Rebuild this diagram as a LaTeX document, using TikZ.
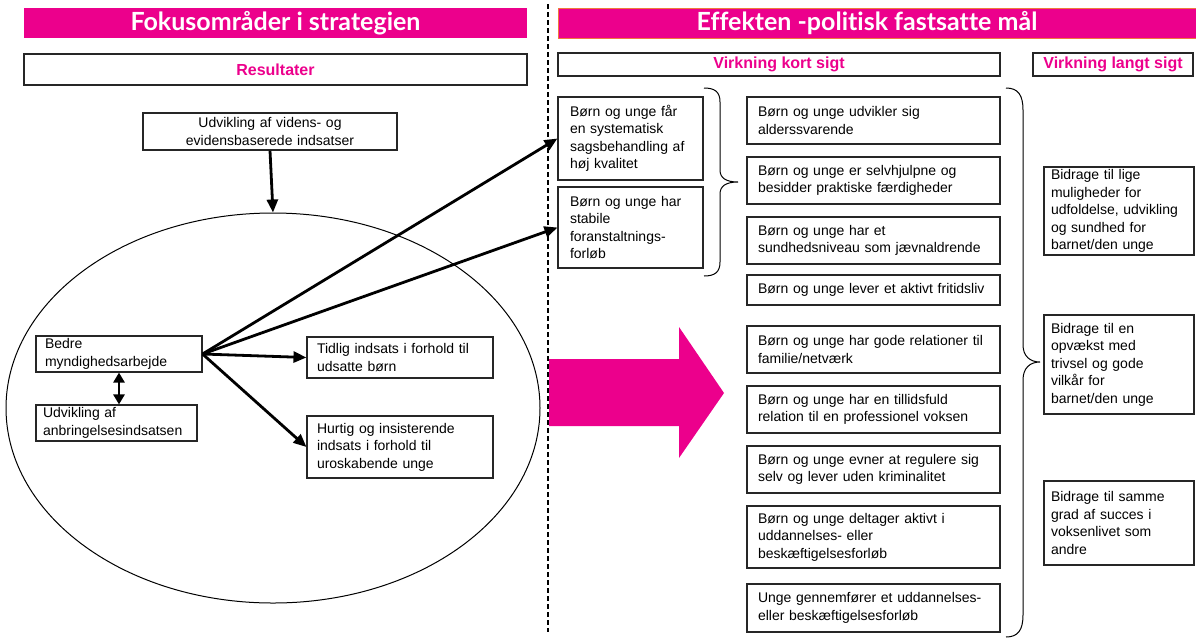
\documentclass[tikz,border=0pt]{standalone}
\usepackage{fontspec}
\setmainfont{Liberation Sans}
\newfontfamily\hdfont[Ligatures=NoCommon]{Lato}
\usetikzlibrary{arrows.meta,shapes.geometric}
\definecolor{pnk}{RGB}{236,0,140}
\definecolor{hdedge}{RGB}{240,120,60}
\begin{document}
\begin{tikzpicture}[x=1pt,y=-1pt,
  bx/.style={draw=black!85, line width=1.1pt, fill=white, align=left,
    font=\fontsize{14}{17.5}\selectfont, inner ysep=0pt},
  hd/.style={fill=pnk, text=white, inner sep=0pt,
    font=\hdfont\bfseries\fontsize{25}{28}\selectfont},
  sub/.style={draw=black!85, line width=1.1pt, text=pnk, inner sep=0pt,
    font=\bfseries\fontsize{16}{18}\selectfont},
  arr/.style={line width=2.8pt, -{Triangle[length=13pt,width=11pt]}},
  dbl/.style={line width=2.8pt, {Triangle[length=10pt,width=11pt]}-{Triangle[length=10pt,width=11pt]}},
  brc/.style={line width=1pt}]
\useasboundingbox (0,0) rectangle (1196,638);

% headers
\node[hd, minimum width=503, minimum height=30] (hdL) at (275.5,23) {Fokusområder i strategien};
\node[hd, draw=hdedge, line width=0.6pt, minimum width=638, minimum height=30] (hdR) at (877,23) {\hspace*{-20pt}Effekten -politisk fastsatte mål};
\node[sub, minimum width=503, minimum height=31] (res) at (275.5,69.5) {Resultater};
\node[sub, minimum width=442, minimum height=23] (kort) at (779,64.5) {Virkning kort sigt};
\node[sub, minimum width=160, minimum height=23] (lang) at (1113,64.5) {Virkning langt sigt};

% dashed separator
\draw[line width=2pt, dash pattern=on 5pt off 3pt] (548,4) -- (548,632);

% pink arrow
\fill[pnk] (549,359) -- (679,359) -- (679,327) -- (724,393) -- (679,458) -- (679,426) -- (549,426) -- cycle;

% left part
\node[bx, align=center, minimum width=254, minimum height=37, text width=240pt] (udv) at (270,131.5)
  {Udvikling af videns- og\\evidensbaserede indsatser};
\node[draw=black, line width=1pt, ellipse, minimum width=534, minimum height=390, inner sep=0pt] (ell) at (273,408) {};
\node[bx, minimum width=166, minimum height=36, inner xsep=9pt, text width=148pt] (bedre) at (119,354)
  {Bedre\\myndighedsarbejde};
\node[bx, minimum width=161, minimum height=36, inner xsep=7pt, text width=147pt] (anbr) at (116.5,423)
  {Udvikling af\\anbringelsesindsatsen};
\node[bx, minimum width=186, minimum height=41, inner xsep=10pt, text width=166pt] (tidlig) at (400,357.5)
  {Tidlig indsats i forhold til\\udsatte børn};
\node[bx, minimum width=186, minimum height=62, inner xsep=10pt, text width=166pt] (hurtig) at (400,447)
  {Hurtig og insisterende\\indsats i forhold til\\uroskabende unge};

% middle-left boxes
\node[bx, minimum width=145, minimum height=83, inner xsep=12pt, text width=121pt] (mL1) at (630.5,138.5)
  {Børn og unge får\\en systematisk\\sagsbehandling af\\høj kvalitet};
\node[bx, minimum width=145, minimum height=81, inner xsep=12pt, text width=121pt] (mL2) at (630.5,227.5)
  {Børn og unge har\\stabile\\foranstaltnings-\\forløb};

% middle column
\tikzset{mc/.style={bx, minimum width=253, inner xsep=11pt, text width=231pt}}
\node[mc, minimum height=47] (m1) at (873.5,120.5) {Børn og unge udvikler sig\\alderssvarende};
\node[mc, minimum height=47] (m2) at (873.5,180.5) {Børn og unge er selvhjulpne og\\besidder praktiske færdigheder};
\node[mc, minimum height=47] (m3) at (873.5,240.5) {Børn og unge har et\\sundhedsniveau som jævnaldrende};
\node[mc, minimum height=30] (m4) at (873.5,290) {Børn og unge lever et aktivt fritidsliv};
\node[mc, minimum height=47] (m5) at (873.5,349.5) {Børn og unge har gode relationer til\\familie/netværk};
\node[mc, minimum height=47] (m6) at (873.5,409.5) {Børn og unge har en tillidsfuld\\relation til en professionel voksen};
\node[mc, minimum height=47] (m7) at (873.5,469.5) {Børn og unge evner at regulere sig\\selv og lever uden kriminalitet};
\node[mc, minimum height=62] (m8) at (873.5,537) {Børn og unge deltager aktivt i\\uddannelses- eller\\beskæftigelsesforløb};
\node[mc, minimum height=48] (m9) at (873.5,608) {Unge gennemfører et uddannelses-\\eller beskæftigelsesforløb};

% right column
\tikzset{rc/.style={bx, minimum width=150, inner xsep=7pt, text width=136pt}}
\node[rc, minimum height=88] (r1) at (1119,211) {Bidrage til lige\\muligheder for\\udfoldelse, udvikling\\og sundhed for\\barnet/den unge};
\node[rc, minimum height=99] (r2) at (1119,364.5) {Bidrage til en\\opvækst med\\trivsel og gode\\vilkår for\\barnet/den unge};
\node[rc, minimum height=84] (r3) at (1119,523) {Bidrage til samme\\grad af succes i\\voksenlivet som\\andre};

% braces
\draw[brc] (704,88) .. controls (715,88) and (720,92) .. (720,102) -- (720,170)
  .. controls (720,178) and (726,182) .. (738,182)
  .. controls (726,182) and (720,186) .. (720,194) -- (720,262)
  .. controls (720,272) and (715,276) .. (704,276);
\draw[brc] (1006,88) .. controls (1018,88) and (1023,95) .. (1023,110) -- (1023,345)
  .. controls (1023,356) and (1030,362) .. (1040,362)
  .. controls (1030,362) and (1023,368) .. (1023,380) -- (1023,615)
  .. controls (1023,630) and (1018,637) .. (1006,637);

% connectors
\draw[arr] (udv.south) -- (ell.north);
\draw[arr] (bedre.east) -- (mL1.west);
\draw[arr] (bedre.east) -- (mL2.west);
\draw[arr] (bedre.east) -- (tidlig.west);
\draw[arr] (bedre.east) -- (hurtig.west);
\draw[dbl] (bedre.south) -- (bedre.south |- anbr.north);
\end{tikzpicture}
\end{document}
